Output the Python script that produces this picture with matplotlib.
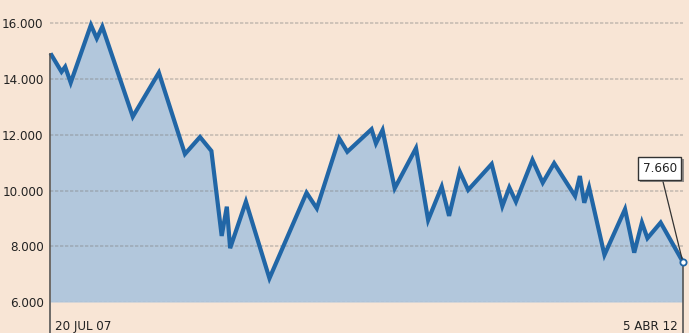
import matplotlib
matplotlib.use("Agg")
import matplotlib.pyplot as plt
from matplotlib import font_manager
import matplotlib.patheffects as pe

# ---------------------------------------------------------------
# Data: days since 20 JUL 07 and index level
# ---------------------------------------------------------------
days = [0, 30, 40, 55, 110, 126, 141, 224, 295, 366, 407, 438, 466, 480,
        489, 532, 596, 697, 725, 786, 808, 874, 886, 904, 937, 995, 1028,
        1065, 1085, 1114, 1137, 1201, 1230, 1249, 1267, 1312, 1340, 1371,
        1428, 1441, 1453, 1466, 1508, 1564, 1589, 1610, 1625, 1661, 1721]
values = [14920, 14260, 14440, 13870, 15940, 15460, 15880, 12650, 14230,
          11310, 11920, 11420, 8370, 9420, 7930, 9600, 6850, 9920, 9360,
          11870, 11390, 12200, 11690, 12170, 10080, 11520, 8940, 10140,
          9090, 10680, 10020, 10950, 9440, 10110, 9600, 11100, 10280, 10980,
          9800, 10520, 9560, 10120, 7690, 9330, 7770, 8850, 8290, 8850, 7450]

yticks = [6000, 8000, 10000, 12000, 14000, 16000]
ytick_labels = ["6.000", "8.000", "10.000", "12.000", "14.000", "16.000"]
start_label = "20 JUL 07"
end_label = "5 ABR 12"
last_label = "7.660"

# ---------------------------------------------------------------
# Style
# ---------------------------------------------------------------
bg = "#f8e5d5"
fill_col = "#b2c7dc"
line_col = "#2166a6"
txt_col = "#222222"

# condensed face if there is one, else a narrow-ish sans
fp = font_manager.FontProperties(family="DejaVu Sans", stretch="condensed")
if "Condensed" in font_manager.findfont(fp, fallback_to_default=False):
    font = dict(family="DejaVu Sans", stretch="condensed", fontsize=9.5)
else:
    font = dict(family="Liberation Sans", fontsize=9.5)

fig = plt.figure(figsize=(6.89, 3.33), dpi=100, facecolor=bg)
ax = fig.add_axes([50.5 / 689, 31 / 333, (682.7 - 50.5) / 689, 302 / 333])
ax.set_facecolor(bg)
ymin, ymax = 6000, 16836
ax.set_xlim(days[0], days[-1])
ax.set_ylim(ymin, ymax)

ax.fill_between(days, ymin, values, color=fill_col, lw=0, zorder=1)

# grid lines
for y in yticks[1:]:
    ax.axhline(y, color="#7f7f7f", alpha=0.4, lw=1.2, ls=(0, (2, 1)), zorder=2)
ax.axhline(yticks[0], color="#9fb0c0", alpha=0.8, lw=1.0, ls=(0, (2, 1.5)), zorder=2)

ax.plot(days, values, color=line_col, lw=3.0, solid_joinstyle="miter",
        solid_capstyle="butt", zorder=3, clip_on=False)

# vertical guide lines at start and end
ybot = ymin - 31 / 302 * (ymax - ymin)
ax.vlines([days[0]], ybot, values[0], color="#555555", lw=1.2, clip_on=False, zorder=4)
ax.vlines([days[-1]], ybot, values[-1], color="#555555", lw=1.2, clip_on=False, zorder=2)
ax.plot(days[-1], values[-1], "o", ms=4.5, mfc="white", mec=line_col, mew=1.3,
        clip_on=False, zorder=5)

# last value callout
ann = ax.annotate(last_label, xy=(days[-1], values[-1]), xytext=(-16.5, 67),
                  textcoords="offset points", ha="center", va="center",
                  color=txt_col, zorder=6, **font,
                  bbox=dict(boxstyle="square,pad=0.35", fc="white", ec="#333333", lw=1.0),
                  arrowprops=dict(arrowstyle="-", color="#333333", lw=0.9,
                                  shrinkA=0, shrinkB=2))
ann.get_bbox_patch().set_path_effects(
    [pe.SimplePatchShadow(offset=(1.5, -1.5), shadow_rgbFace="#777777", alpha=0.8),
     pe.Normal()])

# axis labels
ax.set_yticks(yticks)
ax.set_yticklabels(ytick_labels, color=txt_col, **font)
ax.tick_params(axis="y", length=0, pad=5)
ax.set_xticks([])
for s in ax.spines.values():
    s.set_visible(False)

fig.text(55 / 689, 1 - 330 / 333, start_label, ha="left", va="baseline",
         color=txt_col, **font)
fig.text(678 / 689, 1 - 330 / 333, end_label, ha="right", va="baseline",
         color=txt_col, **font)

fig.savefig("out.png", dpi=100, facecolor=bg)
